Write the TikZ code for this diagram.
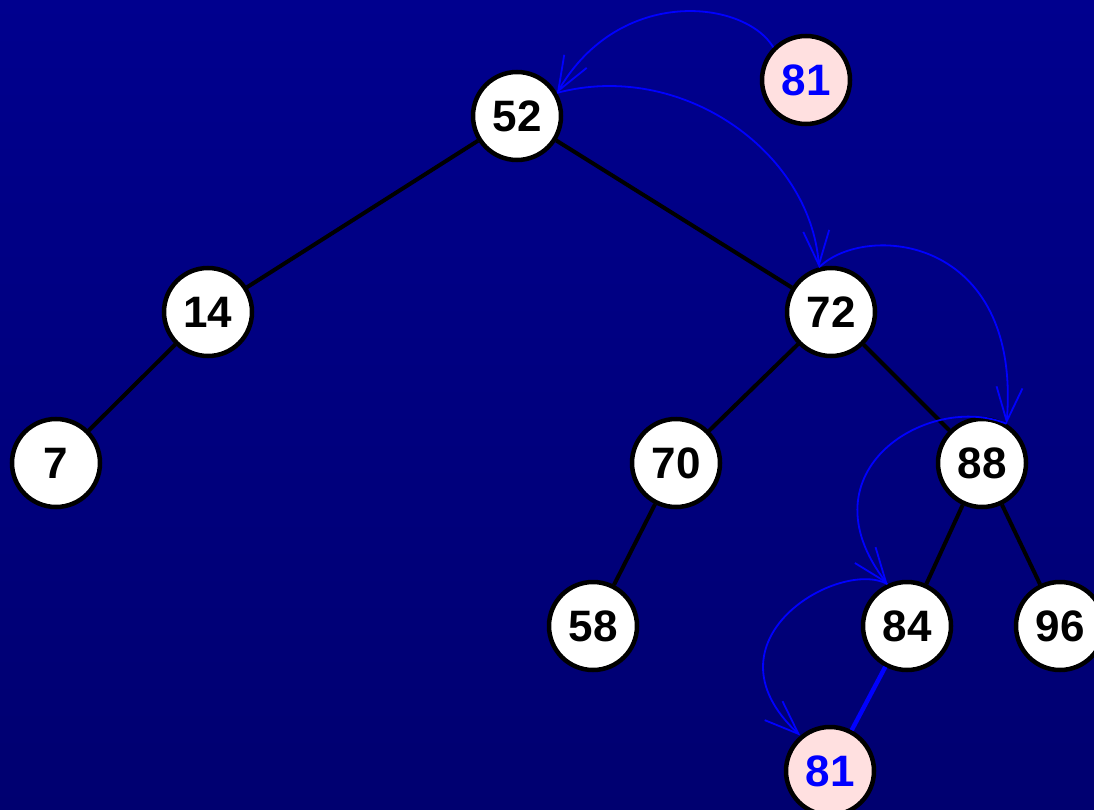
\documentclass[tikz,border=0pt]{standalone}
\usepackage{fontspec}
\setmainfont{Liberation Sans}
\usetikzlibrary{arrows.meta}
\definecolor{bgtop}{RGB}{0,0,142}
\definecolor{bgbot}{RGB}{0,0,112}
\definecolor{pinkfill}{RGB}{255,224,224}
\definecolor{arrowblue}{RGB}{0,0,255}
\begin{document}
\begin{tikzpicture}[x=1pt,y=-1pt,
  tnode/.style={circle,draw=black,line width=4.5pt,fill=white,minimum size=88pt,inner sep=0pt,
    font=\fontsize{44}{44}\selectfont\bfseries,text=black},
  newnode/.style={tnode,fill=pinkfill,text=arrowblue},
  edge/.style={draw=black,line width=4pt},
  newedge/.style={draw=arrowblue,line width=4.4pt},
  move/.style={draw=arrowblue,line width=1.8pt,-{Straight Barb[length=34pt,width=26pt,line width=1.8pt]}}]
\useasboundingbox (0,0) rectangle (1094,810);
\clip (0,0) rectangle (1094,810);
\shade[top color=bgtop,bottom color=bgbot] (0,0) rectangle (1094,810);
% nodes
\node[tnode] (n52) at (517,116) {52};
\node[newnode] (n81t) at (806,80) {81};
\node[tnode] (n14) at (208,312) {14};
\node[tnode] (n72) at (831,312) {72};
\node[tnode] (n7) at (56,463) {7};
\node[tnode] (n70) at (676,463) {70};
\node[tnode] (n88) at (982,463) {88};
\node[tnode] (n58) at (593,626) {58};
\node[tnode] (n84) at (907,626) {84};
\node[tnode] (n96) at (1060,626) {96};
\node[newnode] (n81b) at (830,771) {81};
% edges
\draw[edge] (n52) -- (n14);
\draw[edge] (n52) -- (n72);
\draw[edge] (n14) -- (n7);
\draw[edge] (n72) -- (n70);
\draw[edge] (n72) -- (n88);
\draw[edge] (n70) -- (n58);
\draw[edge] (n88) -- (n84);
\draw[edge] (n88) -- (n96);
\draw[newedge] (n84) -- (n81b);
% search path arrows
\coordinate (a1s) at (n81t.135);
\coordinate (a1e) at (n52.30);
\coordinate (a3s) at (n72.105);
\coordinate (a4s) at (n88.58);
\coordinate (a5s) at (n84.115);
\coordinate (a5e) at (n81b.130);
\draw[move] (a1s) .. controls (745,0) and (620,-15) .. (a1e);
\draw[move] (a1e) .. controls (680,60) and (810,150) .. (a3s);
\draw[move] (a3s) .. controls (865,222) and (1022,235) .. (a4s);
\draw[move] (a4s) .. controls (930,392) and (800,470) .. (a5s);
\draw[move] (a5s) .. controls (840,558) and (698,640) .. (a5e);
\end{tikzpicture}
\end{document}
